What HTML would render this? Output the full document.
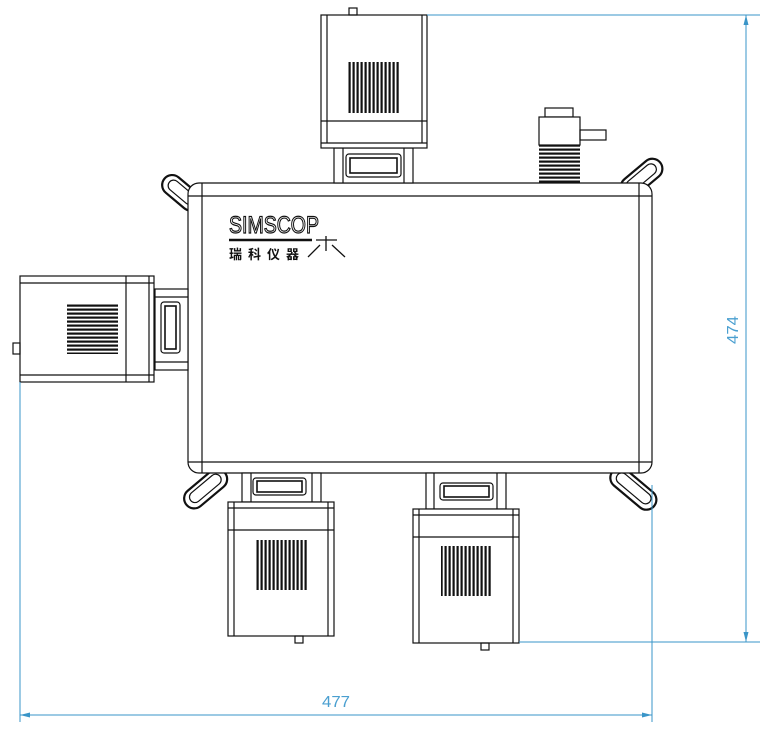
<!DOCTYPE html>
<html><head><meta charset="utf-8"><style>
html,body{margin:0;padding:0;background:#fff}
svg{display:block}
</style></head><body>
<svg width="775" height="741" viewBox="0 0 775 741" xmlns="http://www.w3.org/2000/svg">
<defs>
<pattern id="vv" width="4" height="10" patternUnits="userSpaceOnUse"><rect x="0.5" width="2.2" height="10" fill="#111"/></pattern>
<pattern id="vh" width="10" height="4" patternUnits="userSpaceOnUse"><rect y="0.5" height="2.2" width="10" fill="#111"/></pattern>
</defs>
<g fill="none" stroke="#111" stroke-width="1.2">
<g fill="#fff">
<rect x="160" y="183" width="44" height="20" rx="10" transform="rotate(40 182 192)" stroke-width="2.2"/>
<rect x="166" y="187" width="32" height="11" rx="5.5" transform="rotate(40 182 192)"/>
<rect x="617" y="168" width="48" height="20" rx="10" transform="rotate(-40 641 177)" stroke-width="2.2"/>
<rect x="623" y="172" width="36" height="11" rx="5.5" transform="rotate(-40 641 177)"/>
<rect x="180" y="479" width="50" height="20" rx="10" transform="rotate(-40 205 488)" stroke-width="2.2"/>
<rect x="186" y="483" width="38" height="11" rx="5.5" transform="rotate(-40 205 488)"/>
<rect x="607" y="479" width="54" height="20" rx="10" transform="rotate(40 634 488)" stroke-width="2.2"/>
<rect x="613" y="483" width="42" height="11" rx="5.5" transform="rotate(40 634 488)"/>
</g>
<rect x="188" y="183" width="464" height="290" rx="11" fill="#fff"/>
<line x1="188" y1="196" x2="652" y2="196"/>
<line x1="188" y1="462" x2="652" y2="462"/>
<line x1="202" y1="183" x2="202" y2="473"/>
<line x1="639" y1="183" x2="639" y2="473"/>

<rect x="334" y="148" width="79" height="35" fill="#fff"/>
<line x1="343" y1="148" x2="343" y2="183"/><line x1="404" y1="148" x2="404" y2="183"/>
<rect x="346" y="154" width="55" height="23" rx="3"/>
<rect x="350" y="158" width="47" height="15" stroke-width="1.6"/>
<rect x="321" y="15" width="106" height="133" fill="#fff"/>
<line x1="327" y1="15" x2="327" y2="143"/><line x1="422" y1="15" x2="422" y2="143"/>
<line x1="321" y1="121" x2="427" y2="121"/><line x1="321" y1="143" x2="427" y2="143"/>
<rect x="349" y="8" width="8" height="7"/>
<rect x="348" y="62" width="51" height="51" fill="url(#vv)" stroke="none"/>

<rect x="545" y="108" width="28" height="9" fill="#fff"/>
<rect x="539" y="117" width="41" height="28" fill="#fff"/>
<rect x="580" y="130" width="26" height="10"/>
<rect x="539" y="145" width="41" height="38" fill="url(#vh)" stroke="none"/>

<rect x="155" y="289" width="33" height="81" fill="#fff"/>
<line x1="155" y1="297" x2="188" y2="297"/><line x1="155" y1="362" x2="188" y2="362"/>
<rect x="161" y="302" width="19" height="51" rx="3"/>
<rect x="165" y="306" width="11" height="43" stroke-width="1.6"/>
<rect x="20" y="276" width="134" height="106" fill="#fff"/>
<line x1="20" y1="283" x2="154" y2="283"/><line x1="20" y1="375" x2="154" y2="375"/>
<line x1="126" y1="276" x2="126" y2="382"/><line x1="149" y1="276" x2="149" y2="382"/>
<rect x="13" y="343" width="7" height="11"/>
<rect x="67" y="304" width="51" height="50" fill="url(#vh)" stroke="none"/>

<rect x="242" y="473" width="79" height="29" fill="#fff"/>
<line x1="251" y1="473" x2="251" y2="502"/><line x1="312" y1="473" x2="312" y2="502"/>
<rect x="253" y="478" width="53" height="17" rx="3"/>
<rect x="257" y="481" width="45" height="11" stroke-width="1.6"/>
<rect x="228" y="502" width="106" height="134" fill="#fff"/>
<line x1="234" y1="502" x2="234" y2="636"/><line x1="328" y1="502" x2="328" y2="636"/>
<line x1="228" y1="508" x2="334" y2="508"/><line x1="228" y1="530" x2="334" y2="530"/>
<rect x="295" y="636" width="8" height="7"/>
<rect x="256" y="540" width="51" height="50" fill="url(#vv)" stroke="none"/>

<rect x="426" y="473" width="80" height="36" fill="#fff"/>
<line x1="434" y1="473" x2="434" y2="509"/><line x1="497" y1="473" x2="497" y2="509"/>
<rect x="440" y="483" width="53" height="17" rx="3"/>
<rect x="444" y="486" width="45" height="11" stroke-width="1.6"/>
<rect x="413" y="509" width="106" height="134" fill="#fff"/>
<line x1="419" y1="509" x2="419" y2="643"/><line x1="513" y1="509" x2="513" y2="643"/>
<line x1="413" y1="515" x2="519" y2="515"/><line x1="413" y1="537" x2="519" y2="537"/>
<rect x="481" y="643" width="8" height="7"/>
<rect x="441" y="546" width="51" height="50" fill="url(#vv)" stroke="none"/>
</g>

<text x="229" y="233" font-family="Liberation Sans, sans-serif" font-size="24" fill="#fff" stroke="#111" stroke-width="1.2" textLength="90" lengthAdjust="spacingAndGlyphs">SIMSCOP</text>
<line x1="229" y1="240" x2="312" y2="240" stroke="#111" stroke-width="2.5"/>
<text x="229" y="259" font-family="Liberation Sans, 'Noto Sans CJK SC', sans-serif" font-size="13" font-weight="bold" fill="#111" letter-spacing="6">瑞科仪器</text>
<g stroke="#111" stroke-width="1.3" fill="none">
<path d="M316 240 L337 240 M326 236 L326 251 M320 245 L308 257 M332 245 L345 257"/>
</g>

<g stroke="#3a95c8" stroke-width="1" fill="none">
<line x1="427" y1="15" x2="760" y2="15"/>
<line x1="519" y1="642" x2="760" y2="642"/>
<line x1="746" y1="15" x2="746" y2="642"/>
<line x1="20" y1="382" x2="20" y2="722"/>
<line x1="652" y1="485" x2="652" y2="722"/>
<line x1="20" y1="715" x2="652" y2="715"/>
</g>
<g fill="#3a95c8">
<path d="M746 15 l-2.5 10 h5 z"/><path d="M746 642 l-2.5 -10 h5 z"/>
<path d="M20 715 l10 -2.5 v5 z"/><path d="M652 715 l-10 -2.5 v5 z"/>
</g>
<text x="336" y="707" text-anchor="middle" font-family="Liberation Sans, sans-serif" font-size="16" fill="#4a9fd0" textLength="28" lengthAdjust="spacingAndGlyphs">477</text>
<text transform="translate(738 330) rotate(-90)" text-anchor="middle" font-family="Liberation Sans, sans-serif" font-size="16" fill="#4a9fd0" textLength="28" lengthAdjust="spacingAndGlyphs">474</text>
</svg>
</body></html>
